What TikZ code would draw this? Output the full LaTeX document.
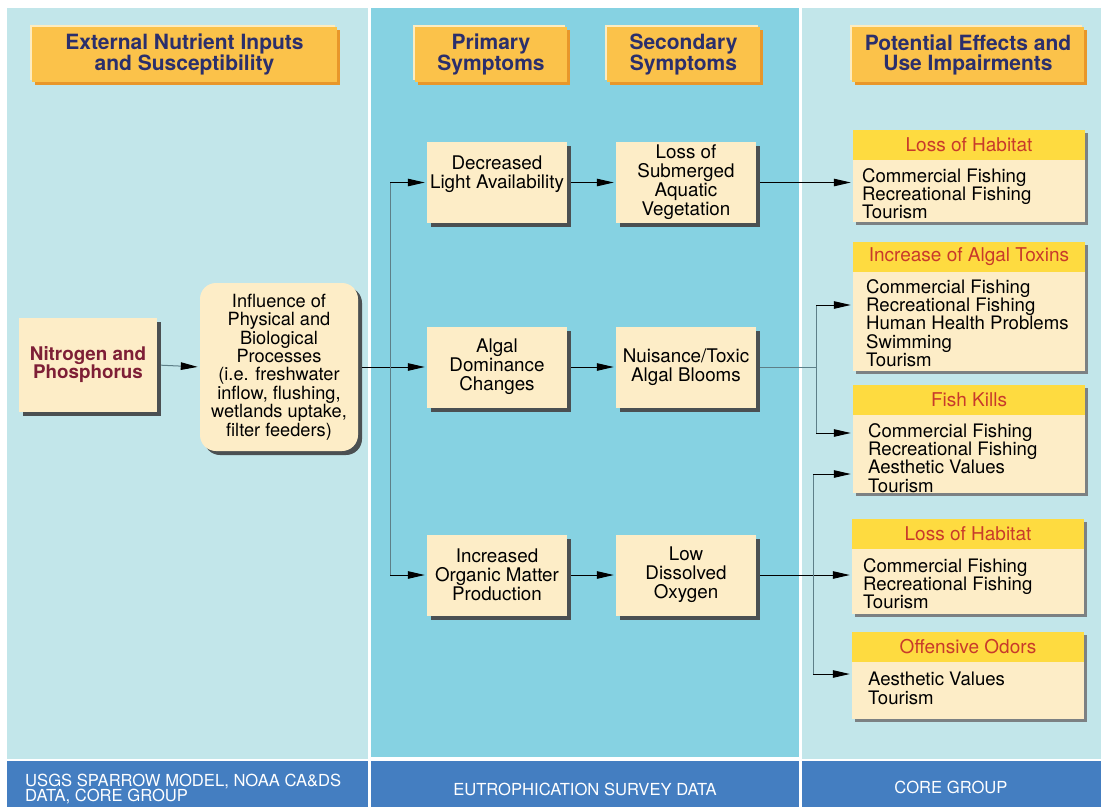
\documentclass[tikz,border=0pt]{standalone}
\usepackage{fontspec}
\setmainfont{TeX Gyre Heros}
\usetikzlibrary{arrows.meta,shadows}
\definecolor{palecyan}{HTML}{C2E6EA}
\definecolor{midcyan}{HTML}{86D2E2}
\definecolor{barblue}{HTML}{447EC1}
\definecolor{hdrorange}{HTML}{FBC24A}
\definecolor{hdrdark}{HTML}{E8972A}
\definecolor{hdrlight}{HTML}{FDECC0}
\definecolor{cream}{HTML}{FDEDC7}
\definecolor{bandyellow}{HTML}{FEDB40}
\definecolor{boxshade}{HTML}{4B5052}
\definecolor{effshade}{HTML}{7C8183}
\definecolor{navy}{HTML}{2B2F6C}
\definecolor{maroon}{HTML}{7E1F36}
\definecolor{effred}{HTML}{C83A2B}
\definecolor{linegray}{HTML}{5D7F88}
\tikzset{
	header/.style={fill=hdrorange, align=center, text=navy, inner sep=0pt, minimum height=55pt,
		font=\bfseries\fontsize{21}{20}\selectfont,
		general shadow={fill=hdrlight, shadow xshift=-2pt, shadow yshift=2pt},
		general shadow={fill=hdrdark, shadow xshift=3pt, shadow yshift=-3pt}},
	midbox/.style={fill=cream, align=center, inner sep=0pt, minimum width=140pt, minimum height=81pt,
		font=\fontsize{18.8}{19}\selectfont,
		drop shadow={fill=boxshade, opacity=1, shadow xshift=4pt, shadow yshift=-4pt}},
	midtext/.style={align=center, inner sep=0pt, font=\fontsize{18.8}{19}\selectfont},
	effbox/.style={fill=cream, inner sep=0pt, minimum width=232pt,
		drop shadow={fill=effshade, opacity=1, shadow xshift=3pt, shadow yshift=-3pt}},
	effband/.style={fill=bandyellow, anchor=north, inner sep=0pt, minimum width=232pt, minimum height=30pt,
		text=effred, font=\fontsize{19}{18}\selectfont},
	efftext/.style={anchor=north west, align=left, inner sep=0pt, font=\fontsize{18.6}{18.3}\selectfont},
	bartext/.style={text=white, inner sep=0pt, font=\fontsize{16.6}{15}\selectfont},
	arr/.style={-{Triangle[length=17pt,width=7.5pt,color=black]}, line width=1pt, shorten >=2pt},
	gline/.style={draw=linegray, line width=1pt}
}
\begin{document}
\begin{tikzpicture}[x=1pt,y=-1pt]
	% Panels
	\fill[white] (0,0) rectangle (1101,807);
	\useasboundingbox (0,0) rectangle (1101,807);
	\fill[palecyan] (7,8) rectangle (368,759);
	\fill[midcyan] (371,8) rectangle (799,757);
	\fill[palecyan] (802,8) rectangle (1101,759);
	\fill[barblue] (7,761) rectangle (368,807);
	\fill[barblue] (371,761) rectangle (799,807);
	\fill[barblue] (802,761) rectangle (1101,807);
	% Headers
	\node[header, minimum width=305pt] (hext) at (184.5,54.5) {External Nutrient Inputs\\and Susceptibility};
	\node[header, minimum width=152pt] (hprim) at (491,54.5) {Primary\\Symptoms};
	\node[header, minimum width=153pt] (hsec) at (683.5,54.5) {Secondary\\Symptoms};
	\node[header, minimum width=232pt] (heff) at (968,54.5) {Potential Effects and\\Use Impairments};
	% Inputs
	\node[midbox, minimum width=138pt, minimum height=94pt, text=maroon, font=\bfseries\fontsize{18.8}{18}\selectfont]
		(nitro) at (88,365) {Nitrogen and\\Phosphorus};
	\node[midbox, minimum width=158pt, minimum height=168pt, rounded corners=16pt, font=\fontsize{18.2}{18.4}\selectfont]
		(infl) at (279,367) {Influence of\\Physical and\\Biological\\Processes\\(i.e. freshwater\\inflow, flushing,\\wetlands uptake,\\filter feeders)};
	% Symptoms
	\node[midbox] (light) at (497,182.5) {};
	\node[midtext] (lighttext) at (497,174.5) {Decreased\\Light Availability};
	\node[midbox] (sav) at (686,182.5) {Loss of\\Submerged\\Aquatic\\Vegetation};
	\node[midbox] (algal) at (497,367) {Algal\\Dominance\\Changes};
	\node[midbox] (bloom) at (686,367) {Nuisance/Toxic\\Algal Blooms};
	\node[midbox] (organic) at (497,575) {Increased\\Organic Matter\\Production};
	\node[midbox] (oxy) at (686,575) {Low\\Dissolved\\Oxygen};
	% Effects
	\node[effbox, minimum height=92pt] (hab1) at (969,176) {};
	\node[effband] (hab1h) at (hab1.north) {Loss of Habitat};
	\node[efftext] (hab1t) at (862,168) {Commercial Fishing\\Recreational Fishing\\Tourism};
	\node[effbox, minimum height=129pt] (tox) at (969,306.5) {};
	\node[effband] (toxh) at (tox.north) {Increase of Algal Toxins};
	\node[efftext] (toxt) at (866,279) {Commercial Fishing\\Recreational Fishing\\Human Health Problems\\Swimming\\Tourism};
	\node[effbox, minimum height=108pt] (kill) at (969,439) {};
	\node[effband] (killh) at (kill.north) {Fish Kills};
	\node[efftext] (killt) at (868,423) {Commercial Fishing\\Recreational Fishing\\Aesthetic Values\\Tourism};
	\node[effbox, minimum height=95pt] (hab2) at (968,566.5) {};
	\node[effband] (hab2h) at (hab2.north) {Loss of Habitat};
	\node[efftext] (hab2t) at (863,558) {Commercial Fishing\\Recreational Fishing\\Tourism};
	\node[effbox, minimum height=87pt] (odor) at (968,675.5) {};
	\node[effband] (odorh) at (odor.north) {Offensive Odors};
	\node[efftext] (odort) at (868,672) {Aesthetic Values\\Tourism};
	% Sources
	\node[bartext, anchor=west, align=left] (srcl) at (25,789) {USGS SPARROW MODEL, NOAA CA\&DS\\DATA, CORE GROUP};
	\node[bartext] (srcm) at (585,789) {EUTROPHICATION SURVEY DATA};
	\node[bartext] (srcr) at (951,787) {CORE GROUP};
	% Connectors
	\coordinate (ttop) at (390,182.5);
	\coordinate (tbot) at (390,575);
	\coordinate (nsplit) at (816,367);
	\coordinate (ntop) at (816,305);
	\coordinate (nbot) at (816,433);
	\coordinate (otop) at (813,474);
	\coordinate (obot) at (813,674);
	\draw[arr, draw=linegray, shorten <=4pt] (nitro.east) -- (infl.west);
	\draw[arr, shorten <=4pt] (infl.east) -- (algal.west);
	\draw[gline] (ttop) -- (tbot);
	\draw[arr] (ttop) -- (light.west);
	\draw[arr] (tbot) -- (organic.west);
	\draw[arr, shorten <=4pt] (light.east) -- (sav.west);
	\draw[arr, shorten <=4pt] (algal.east) -- (bloom.west);
	\draw[arr, shorten <=4pt] (organic.east) -- (oxy.west);
	\draw[arr, shorten <=4pt] (sav.east) -- (sav.east -| hab1.west);
	\draw[gline, shorten <=4pt] (bloom.east) -- (nsplit);
	\draw[gline] (ntop) -- (nbot);
	\draw[arr] (ntop) -- (ntop -| tox.west);
	\draw[arr] (nbot) -- (nbot -| kill.west);
	\draw[arr, shorten <=4pt] (oxy.east) -- (oxy.east -| hab2.west);
	\draw[gline] (otop) -- (obot);
	\draw[arr] (otop) -- (otop -| kill.west);
	\draw[arr] (obot) -- (obot -| odor.west);
\end{tikzpicture}
\end{document}
